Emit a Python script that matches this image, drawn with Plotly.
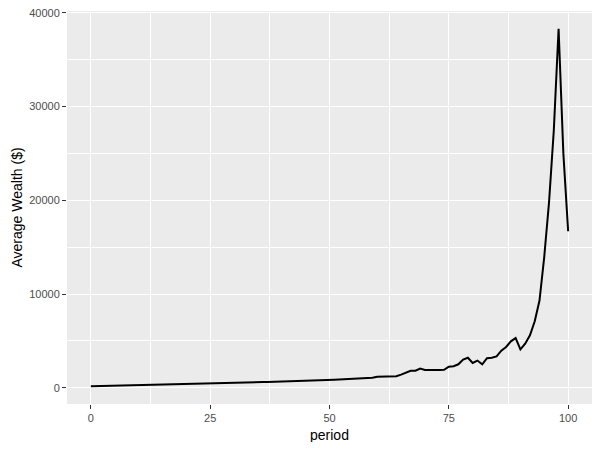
import plotly.graph_objects as go

# average wealth per period
period = list(range(0, 101))
avg_wealth = [
    170, 180, 190, 200, 210, 220, 232, 244, 252, 260,
    268, 276, 285, 294, 303, 312, 321, 330, 340, 350,
    362, 374, 386, 398, 410, 420, 432, 444, 456, 482,
    508, 535, 562, 574, 586, 598, 610, 622, 634, 646,
    658, 668, 694, 720, 746, 772, 787, 802, 817, 832,
    848, 863, 878, 896, 914, 932, 950, 968, 985, 1060,
    1180, 1200, 1210, 1215, 1220, 1400, 1600, 1800, 1820, 2050,
    1900, 1880, 1880, 1880, 1920, 2250, 2300, 2500, 3000, 3200,
    2650, 2900, 2500, 3150, 3200, 3350, 3950, 4350, 4950, 5300,
    4100, 4700, 5600, 7100, 9300, 14000, 19800, 27500, 38300, 25000,
    16700,
]

x_ticks = [0, 25, 50, 75, 100]
y_ticks = [0, 10000, 20000, 30000, 40000]

# ggplot style 5% expansion
xpad = (max(period) - min(period)) * 0.05
ypad = (max(avg_wealth) - min(avg_wealth)) * 0.05

fig = go.Figure()
fig.add_trace(go.Scatter(
    x=period, y=avg_wealth, mode='lines',
    line=dict(color='black', width=2), showlegend=False))

axis_common = dict(
    showgrid=True, gridcolor='white', gridwidth=1.1,
    zeroline=False, showline=False, automargin=False,
    ticks='outside', ticklen=4, tickwidth=1, tickcolor='#333333',
    tickfont=dict(size=11, color='#4d4d4d'), ticklabeloverflow='allow',
)

fig.update_xaxes(
    axis_common,
    range=[min(period) - xpad, max(period) + xpad],
    tickvals=x_ticks, ticktext=[str(v) for v in x_ticks],
    minor=dict(tickmode='linear', tick0=12.5, dtick=25, showgrid=True,
               gridcolor='white', gridwidth=0.5, ticks=''),
)
fig.update_yaxes(
    axis_common,
    range=[min(avg_wealth) - ypad, max(avg_wealth) + ypad],
    tickvals=y_ticks, ticktext=[str(v) for v in y_ticks],
    minor=dict(tickmode='linear', tick0=5000, dtick=10000, showgrid=True,
               gridcolor='white', gridwidth=0.5, ticks=''),
)

# axis titles as annotations so the margins stay fixed
fig.add_annotation(text='period', xref='paper', yref='paper', x=0.5, y=0,
                   xanchor='center', yanchor='middle', yshift=-31, showarrow=False,
                   font=dict(size=14, color='black'))
fig.add_annotation(text='Average Wealth ($)', xref='paper', yref='paper', x=0, y=0.5,
                   xanchor='center', yanchor='middle', xshift=-51, textangle=-90,
                   showarrow=False, font=dict(size=14, color='black'))

# page body has an 8px margin, so the figure is a bit smaller than the window
fig.update_layout(
    width=584, height=434,
    margin=dict(l=59, r=0, t=3, b=38),
    paper_bgcolor='white', plot_bgcolor='#ebebeb',
    font=dict(family='Arial, Liberation Sans, sans-serif'),
)

fig.write_html("out.html")
